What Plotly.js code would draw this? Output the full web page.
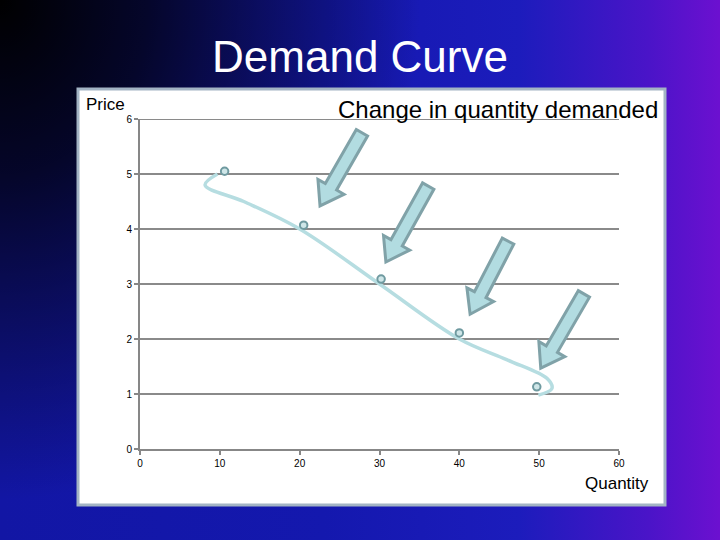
<!DOCTYPE html>
<html>
<head>
<meta charset="utf-8">
<script src="https://cdn.plot.ly/plotly-3.0.1.min.js"></script>
<style>
html, body { margin:0; padding:0; width:720px; height:540px; overflow:hidden; }
body {
  background:
    radial-gradient(ellipse 420px 500px at 0px 0px, rgba(0,0,0,1) 0%, rgba(0,0,0,0.75) 35%, rgba(0,0,0,0) 100%),
    linear-gradient(to right, #1216a4 0%, #1418ae 45%, #1c1cbc 72%, #4a14c8 90%, #6c10d0 100%);
}
#chart { width:720px; height:540px; }
</style>
</head>
<body>
<div id="chart"></div>
<script>
// Smoothed demand curve as drawn
const curveQuantity = [9.7, 8.15, 13.0, 20, 30, 40, 46.0, 51.0, 51.6, 49.9];
const curvePrice    = [5.0, 4.80, 4.50, 4.0, 3.0, 2.0, 1.62, 1.28, 1.10, 0.98];
// Plotted data point markers
const pointQuantity = [10.6, 20.5, 30.2, 40.0, 49.7];
const pointPrice    = [5.05, 4.07, 3.09, 2.11, 1.13];
// Axis ticks
const xTicks = [0, 10, 20, 30, 40, 50, 60];
const yTicks = [0, 1, 2, 3, 4, 5, 6];
// Arrows (tail -> tip), in data units
const arrowTailX = [27.8, 36.1, 46.1, 55.6];
const arrowTailY = [5.75, 4.78, 3.78, 2.82];
const arrowTipX  = [22.55, 30.8, 41.35, 50.2];
const arrowTipY  = [4.42, 3.40, 2.45, 1.47];

const W = 720, H = 540;
const M = {l:140, r:101, t:119, b:91};
const pw = W - M.l - M.r, ph = H - M.t - M.b;
const toPx = (x, y) => [M.l + x/60*pw, M.t + (6 - y)/6*ph];
const toData = (px, py) => [(px - M.l)/pw*60, 6 - (py - M.t)/ph*6];

function arrowPath(tx, ty, hx, hy) {
  const [ax, ay] = toPx(tx, ty), [bx, by] = toPx(hx, hy);
  const L = Math.hypot(bx-ax, by-ay);
  const dx = (bx-ax)/L, dy = (by-ay)/L;
  const nx = -dy, ny = dx;
  const sw = 6.5, hw = 15, hl = 22;
  const cx = bx - dx*hl, cy = by - dy*hl;
  const pts = [
    [ax + nx*sw, ay + ny*sw],
    [cx + nx*sw, cy + ny*sw],
    [cx + nx*hw, cy + ny*hw],
    [bx, by],
    [cx - nx*hw, cy - ny*hw],
    [cx - nx*sw, cy - ny*sw],
    [ax - nx*sw, ay - ny*sw]
  ].map(p => toData(p[0], p[1]));
  return 'M' + pts.map(p => p[0].toFixed(3) + ',' + p[1].toFixed(3)).join(' L') + ' Z';
}

const shapes = [{
  type:'rect', xref:'paper', yref:'paper', layer:'below',
  x0:(78-M.l)/pw, x1:(665-M.l)/pw, y0:(H-M.b-505)/ph, y1:(H-M.b-89)/ph,
  fillcolor:'#ffffff', line:{color:'#a3b4c4', width:3}
}, {
  // top gridline at the range edge
  type:'line', xref:'x', yref:'y', layer:'below',
  x0:0, x1:60, y0:yTicks[yTicks.length-1], y1:yTicks[yTicks.length-1],
  line:{color:'#8a8a8a', width:2}
}];
for (let i = 0; i < arrowTailX.length; i++) {
  shapes.push({
    type:'path', xref:'x', yref:'y', layer:'above',
    path: arrowPath(arrowTailX[i], arrowTailY[i], arrowTipX[i], arrowTipY[i]),
    fillcolor:'#b2dce1', line:{color:'#80a2a8', width:3}
  });
}

const font = 'Liberation Sans, Arial, sans-serif';

const traces = [
  {x:curveQuantity, y:curvePrice, mode:'lines', type:'scatter',
   line:{shape:'spline', smoothing:1.0, color:'#b6dde1', width:3.5}, hoverinfo:'skip'},
  {x:pointQuantity, y:pointPrice, mode:'markers', type:'scatter',
   marker:{size:7.5, color:'#cfe6e8', line:{color:'#6f9aa0', width:2}}}
];

const layout = {
  width:W, height:H, autosize:false,
  margin:M,
  paper_bgcolor:'rgba(0,0,0,0)', plot_bgcolor:'rgba(0,0,0,0)',
  showlegend:false,
  title:{text:'Demand Curve', font:{family:font, size:44, color:'#ffffff'},
         xref:'container', x:0.5, xanchor:'center', yref:'container', y:1-57/H, yanchor:'middle'},
  xaxis:{range:[0,60], tickvals:xTicks, ticktext:xTicks.map(String), showgrid:false, zeroline:false,
         showline:true, linecolor:'#878787', linewidth:2, ticks:'outside', ticklen:4, tickwidth:2,
         tickcolor:'#878787', tickfont:{family:font, size:10, color:'#000'}, fixedrange:true},
  yaxis:{range:[0,6], tickvals:yTicks, ticktext:yTicks.map(String), showgrid:true, gridcolor:'#8a8a8a',
         gridwidth:2, zeroline:false, showline:true, linecolor:'#878787', linewidth:2, ticks:'outside',
         ticklen:4, tickwidth:2, tickcolor:'#878787', tickfont:{family:font, size:10, color:'#000'}, fixedrange:true},
  shapes:shapes,
  annotations:[
    {text:'Price', xref:'paper', yref:'paper', x:(105.5-M.l)/pw, y:(H-M.b-104)/ph,
     showarrow:false, xanchor:'center', yanchor:'middle', font:{family:font, size:17, color:'#000'}},
    {text:'Change in quantity demanded', xref:'paper', yref:'paper', x:(497.5-M.l)/pw, y:(H-M.b-109)/ph,
     showarrow:false, xanchor:'center', yanchor:'middle', font:{family:font, size:24, color:'#000'}},
    {text:'Quantity', xref:'paper', yref:'paper', x:(616.5-M.l)/pw, y:(H-M.b-483)/ph,
     showarrow:false, xanchor:'center', yanchor:'middle', font:{family:font, size:17, color:'#000'}}
  ]
};

Plotly.newPlot('chart', traces, layout, {displayModeBar:false, staticPlot:true});
</script>
</body>
</html>
